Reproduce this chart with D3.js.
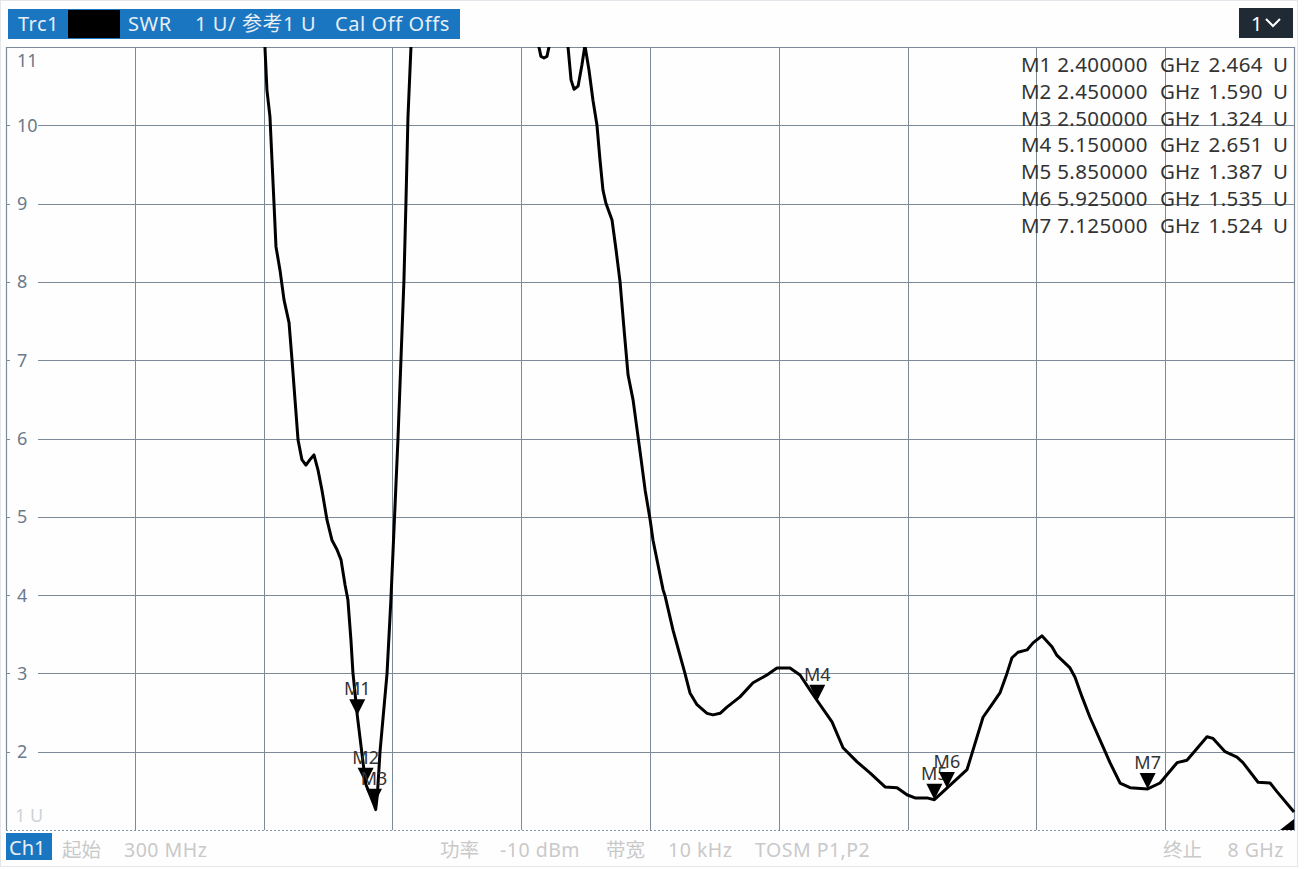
<!DOCTYPE html>
<html>
<head>
<meta charset="utf-8">
<script src="https://cdn.jsdelivr.net/npm/d3@7"></script>
<style>
  body { margin: 0; background: #ffffff; }
  svg { display: block; font-family: "Noto Sans", "Noto Sans CJK SC", sans-serif; }
</style>
</head>
<body>
<svg id="chart" width="1304" height="869"></svg>
<script>
// trace data (frequency in GHz, SWR in U)
const freqGHz = [1.842, 1.848, 1.860, 1.878, 1.890, 1.902, 1.914, 1.938, 1.962, 1.992, 2.010, 2.028, 2.046, 2.069, 2.093, 2.117, 2.141, 2.165, 2.189, 2.219, 2.249, 2.279, 2.303, 2.327, 2.344, 2.362, 2.374, 2.400, 2.450, 2.500, 2.510, 2.520, 2.536, 2.578, 2.601, 2.643, 2.661, 2.679, 2.691, 2.703, 2.721, 2.730,
  3.000, 3.470, 3.486, 3.498, 3.516, 3.534, 3.546, 3.560, 3.640, 3.660, 3.678, 3.696, 3.720, 3.743, 3.761, 3.785, 3.809, 3.833, 3.851, 3.869, 3.887, 3.923, 3.947, 3.971, 3.995, 4.019, 4.049, 4.073, 4.097, 4.121, 4.151, 4.168, 4.228, 4.240, 4.288, 4.359, 4.389, 4.431, 4.491, 4.527, 4.569, 4.610, 4.688, 4.766, 4.849, 4.909, 4.987, 5.047, 5.106, 5.150, 5.238, 5.304, 5.388, 5.465, 5.555, 5.627, 5.686, 5.734, 5.806, 5.850, 5.925, 6.045, 6.081, 6.141, 6.200, 6.242, 6.284, 6.314, 6.350, 6.404, 6.440, 6.493, 6.553, 6.583, 6.661, 6.691, 6.733, 6.780, 6.840, 6.900, 6.960, 7.020, 7.125, 7.199, 7.301, 7.360, 7.396, 7.480, 7.516, 7.588, 7.659, 7.695, 7.785, 7.857, 7.898, 8.000];
const swr = [11.22, 11.0, 10.45, 10.11, 9.56, 9.01, 8.45, 8.15, 7.77, 7.48, 7.00, 6.49, 5.98, 5.73, 5.66, 5.73, 5.79, 5.60, 5.34, 4.96, 4.70, 4.58, 4.45, 4.13, 3.94, 3.43, 3.01, 2.464, 1.590, 1.324, 1.26, 1.45, 2.0, 3.0, 3.94, 5.98, 7.0, 8.02, 9.01, 10.1, 11.0, 11.5,
  14.0, 11.4, 11.0, 10.88, 10.86, 10.88, 11.0, 11.4, 11.4, 11.0, 10.58, 10.46, 10.50, 10.77, 11.02, 10.71, 10.32, 10.0, 9.56, 9.17, 9.0, 8.79, 8.41, 8.0, 7.39, 6.81, 6.49, 6.11, 5.73, 5.34, 4.96, 4.70, 4.07, 3.99, 3.55, 3.0, 2.75, 2.60, 2.49, 2.47, 2.49, 2.57, 2.70, 2.88, 2.98, 3.07, 3.07, 2.98, 2.79, 2.651, 2.38, 2.05, 1.87, 1.73, 1.55, 1.54, 1.45, 1.41, 1.41, 1.387, 1.535, 1.77, 2.02, 2.44, 2.62, 2.75, 3.0, 3.20, 3.27, 3.30, 3.39, 3.48, 3.34, 3.23, 3.07, 2.95, 2.70, 2.44, 2.15, 1.86, 1.60, 1.54, 1.524, 1.60, 1.86, 1.89, 1.98, 2.19, 2.17, 2.0, 1.93, 1.86, 1.61, 1.60, 1.49, 1.23];

const markerNames = ["M1", "M2", "M3", "M4", "M5", "M6", "M7"];
const markerFreq = [2.4, 2.45, 2.5, 5.15, 5.85, 5.925, 7.125];
const markerSwr = [2.464, 1.590, 1.324, 2.651, 1.387, 1.535, 1.524];

const yTicks = [2, 3, 4, 5, 6, 7, 8, 9, 10];
const startGHz = 0.3, stopGHz = 8;

const svg = d3.select("#chart");
const plotL = 6, plotR = 1294, plotT = 47, plotB = 830;

const x = d3.scaleLinear().domain([startGHz, stopGHz]).range([plotL, plotR]);
const y = d3.scaleLinear().domain([1, 11]).range([plotB, plotT]);

const gridColor = "#7d8b99";
const labelColor = "#6b7a8a";

// outer panel
svg.append("rect").attr("x", 0.5).attr("y", 0.5).attr("width", 1297).attr("height", 866)
  .attr("fill", "#fefefe").attr("stroke", "#e3e7eb");

// header
svg.append("rect").attr("x", 8).attr("y", 9).attr("width", 452).attr("height", 30).attr("fill", "#1a76c0");
svg.append("rect").attr("x", 68).attr("y", 10).attr("width", 52).attr("height", 28).attr("fill", "#000");
const hd = svg.append("g").attr("fill", "#e6eef6").attr("font-size", 20);
hd.append("text").attr("x", 18).attr("y", 31).attr("letter-spacing", 0.5).text("Trc1");
hd.append("text").attr("x", 128).attr("y", 31).attr("letter-spacing", 0.6).text("SWR");
hd.append("text").attr("x", 195).attr("y", 31).attr("letter-spacing", 0.6).text("1 U/ 参考1 U");
hd.append("text").attr("x", 335).attr("y", 31).attr("letter-spacing", 0.6).text("Cal Off Offs");

svg.append("rect").attr("x", 1239).attr("y", 8).attr("width", 54).attr("height", 30).attr("fill", "#1f2a35");
svg.append("text").attr("x", 1251).attr("y", 31).attr("fill", "#ffffff").attr("font-size", 20).text("1");
svg.append("path").attr("d", "M1266,19 L1273,26 L1280,19").attr("fill", "none").attr("stroke", "#ffffff").attr("stroke-width", 2);

// grid
const xDivs = d3.range(1, 10).map(i => startGHz + i * (stopGHz - startGHz) / 10);
svg.append("g").selectAll("line").data(xDivs).join("line")
  .attr("x1", d => Math.round(x(d)) + 0.5).attr("x2", d => Math.round(x(d)) + 0.5)
  .attr("y1", plotT).attr("y2", plotB).attr("stroke", gridColor).attr("stroke-width", 1);
svg.append("g").selectAll("line").data(yTicks).join("line")
  .attr("x1", plotL).attr("x2", plotR)
  .attr("y1", d => Math.round(y(d)) + 0.5).attr("y2", d => Math.round(y(d)) + 0.5)
  .attr("stroke", gridColor).attr("stroke-width", 1);

// frame
svg.append("path").attr("d", `M${plotL + 0.5},${plotB} V${plotT + 0.5} H${plotR + 0.5} V${plotB}`)
  .attr("fill", "none").attr("stroke", gridColor).attr("stroke-width", 1.2);
svg.append("line").attr("x1", plotL).attr("x2", plotR + 1).attr("y1", plotB + 0.5).attr("y2", plotB + 0.5)
  .attr("stroke", "#8a96a2").attr("stroke-dasharray", "2,2");

// y labels with white backing
const yl = svg.append("g");
yl.selectAll("rect").data(yTicks).join("rect")
  .attr("x", 10).attr("y", d => y(d) - 10).attr("width", 28).attr("height", 20).attr("fill", "#fefefe");
yl.selectAll("text").data(yTicks).join("text")
  .attr("x", 17).attr("y", d => y(d) + 6.5).attr("fill", labelColor).attr("font-size", 18).text(d => d);
svg.append("text").attr("x", 17).attr("y", 67).attr("fill", labelColor).attr("font-size", 18).text("11");
svg.append("text").attr("x", 15).attr("y", 822).attr("fill", "#cdd3da").attr("font-size", 18).text("1 U");

// marker readout
const rowY = i => 72 + i * 26.8;
const ro = svg.append("g").attr("fill", "#333").attr("font-size", 20.5);
markerNames.forEach((m, i) => {
  ro.append("text").attr("x", 1021).attr("y", rowY(i)).text(m);
  ro.append("text").attr("x", 1148).attr("y", rowY(i)).attr("text-anchor", "end").attr("letter-spacing", 0.4).text(markerFreq[i].toFixed(6));
  ro.append("text").attr("x", 1160).attr("y", rowY(i)).text("GHz");
  ro.append("text").attr("x", 1263).attr("y", rowY(i)).attr("text-anchor", "end").attr("letter-spacing", 0.4).text(markerSwr[i].toFixed(3));
  ro.append("text").attr("x", 1273).attr("y", rowY(i)).text("U");
});

// trace
svg.append("clipPath").attr("id", "plotClip").append("rect")
  .attr("x", plotL).attr("y", plotT).attr("width", plotR - plotL + 1).attr("height", plotB - plotT);
const line = d3.line().x(d => x(d[0])).y(d => y(d[1]));
svg.append("path").datum(d3.zip(freqGHz, swr))
  .attr("clip-path", "url(#plotClip)")
  .attr("d", line).attr("fill", "none").attr("stroke", "#000").attr("stroke-width", 3)
  .attr("stroke-linejoin", "round");

// markers
const mk = svg.append("g");
markerNames.forEach((m, i) => {
  const px = x(markerFreq[i]), py = y(markerSwr[i]);
  mk.append("path").attr("d", `M${px - 8},${py - 16} L${px + 8},${py - 16} L${px},${py} Z`).attr("fill", "#000");
  mk.append("text").attr("x", px).attr("y", py - 20).attr("text-anchor", "middle")
    .attr("fill", "#333").attr("font-size", 18).text(m);
});
// off-screen marker indicator at the right end
svg.append("path").attr("d", `M${plotR - 14},${plotB} L${plotR},${plotB - 11} L${plotR},${plotB} Z`).attr("fill", "#000");

// footer
svg.append("rect").attr("x", 6).attr("y", 833).attr("width", 46).attr("height", 27).attr("fill", "#1a76c0");
svg.append("text").attr("x", 9).attr("y", 855).attr("fill", "#e6eef6").attr("font-size", 20).text("Ch1");
const ft = svg.append("g").attr("fill", "#c9c9c9").attr("font-size", 19.5);
ft.append("text").attr("x", 62).attr("y", 857).text("起始");
ft.append("text").attr("x", 124).attr("y", 857).attr("letter-spacing", 0.5).text("300 MHz");
ft.append("text").attr("x", 440).attr("y", 857).text("功率");
ft.append("text").attr("x", 500).attr("y", 857).attr("letter-spacing", 0.5).text("-10 dBm");
ft.append("text").attr("x", 606).attr("y", 857).text("带宽");
ft.append("text").attr("x", 668).attr("y", 857).attr("letter-spacing", 0.5).text("10 kHz");
ft.append("text").attr("x", 755).attr("y", 857).attr("letter-spacing", 0.5).text("TOSM P1,P2");
ft.append("text").attr("x", 1163).attr("y", 857).text("终止");
ft.append("text").attr("x", 1284).attr("y", 857).attr("text-anchor", "end").attr("letter-spacing", 0.5).text("8 GHz");
</script>
</body>
</html>
